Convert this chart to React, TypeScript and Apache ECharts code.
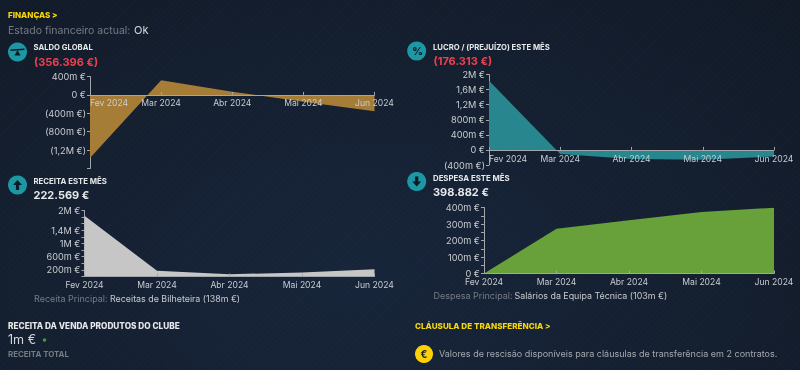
import React, { useEffect, useRef } from "react";
import * as echarts from "echarts";

const months = ["Fev 2024", "Mar 2024", "Abr 2024", "Mai 2024", "Jun 2024"];
// values in thousands of euros ("m €")
const saldo = [-1370, 320, 70, -150, -356.396];
const lucro = [1836, -106, -240, -260, -176.313];
const receita = [1843, 172, 70, 120, 222.569];
const despesa = [0, 271, 323, 373, 398.882];

const saldoLabels = [400, 0, -400, -800, -1200];
const lucroLabels = [2000, 1600, 1200, 800, 400, 0, -400];
const receitaLabels = [2000, 1400, 1000, 600, 200];
const despesaLabels = [400, 300, 200, 100, 0];

const FONT = "Inter";
const fmt = (v: number) => {
  const a = Math.abs(v);
  const s = a === 0 ? "0 €" : a >= 1000 ? `${String(a / 1000).replace(".", ",")}M €` : `${a}m €`;
  return v < 0 ? `(${s})` : s;
};

const AXIS = "#a2a6ab";

type Panel = {
  grid: { left: number; top: number; width: number; height: number };
  data: number[]; labels: number[]; color: string; min: number; max: number; interval: number;
  alignLeft?: boolean; margin: number;
};

const panels: Panel[] = [
  { grid: { left: 90, top: 76.5, width: 284.5, height: 92 }, data: saldo, labels: saldoLabels, color: "#a67d36", min: -1600, max: 400, interval: 400, alignLeft: true, margin: -70.5 },
  { grid: { left: 489, top: 74.5, width: 285, height: 90.5 }, data: lucro, labels: lucroLabels, color: "#27868e", min: -400, max: 2000, interval: 400, alignLeft: true, margin: -11 },
  { grid: { left: 84.5, top: 210.5, width: 290, height: 66 }, data: receita, labels: receitaLabels, color: "#c6c6c6", min: 0, max: 2000, interval: 200, margin: 4 },
  { grid: { left: 484, top: 207.5, width: 290, height: 66 }, data: despesa, labels: despesaLabels, color: "#68a039", min: 0, max: 400, interval: 50, margin: 4 },
];

const t = (x: number, y: number, text: string, fill: string, size: number, weight: number | string = 400) => ({
  type: "text", x, y, silent: true,
  style: { text, fill, fontSize: size, fontWeight: weight, fontFamily: FONT, verticalAlign: "middle" },
});
const circle = (cx: number, cy: number, r: number, fill: string) => ({ type: "circle", shape: { cx, cy, r }, style: { fill }, silent: true });
const poly = (points: number[][], fill: string) => ({ type: "polygon", shape: { points }, style: { fill }, silent: true });

const TEAL = "#1d97a4";
const DARK = "#0e1a26";
const YELLOW = "#f7d708";
const WHITE = "#e6e8ea";
const GRAY = "#757c85";
const RED = "#ee4150";

const upArrow = (cx: number, cy: number) => [[cx, cy - 5], [cx + 4.5, cy], [cx + 1.6, cy], [cx + 1.6, cy + 5], [cx - 1.6, cy + 5], [cx - 1.6, cy], [cx - 4.5, cy]];
const downArrow = (cx: number, cy: number) => [[cx, cy + 5], [cx + 4.5, cy], [cx + 1.6, cy], [cx + 1.6, cy - 5], [cx - 1.6, cy - 5], [cx - 1.6, cy], [cx - 4.5, cy]];

const graphics = [
  t(8, 14.5, "FINANÇAS >", YELLOW, 8, 800),
  t(8, 30, "Estado financeiro actual:", GRAY, 10.5),
  t(134, 30, "Ok", "#d5d7da", 11),

  circle(17.5, 52, 9.5, TEAL),
  poly([[10.5, 49.5], [24.5, 48.5], [24.5, 50], [10.5, 51]], DARK),
  poly([[17.5, 50], [20.5, 55.5], [14.5, 55.5]], DARK),
  t(33.5, 47, "SALDO GLOBAL", WHITE, 7.7, 700),
  t(34, 62, "(356.396 €)", RED, 11, 700),

  circle(416.7, 51, 9.5, TEAL),
  t(412.3, 51, "%", DARK, 10.5, 800),
  t(433, 47, "LUCRO / (PREJUÍZO) ESTE MÊS", WHITE, 7.7, 700),
  t(433.5, 60.5, "(176.313 €)", RED, 11, 700),

  circle(17.5, 185, 9.5, TEAL),
  poly(upArrow(17.5, 185), DARK),
  t(33.5, 180.5, "RECEITA ESTE MÊS", WHITE, 7.8, 700),
  t(33.5, 195, "222.569 €", WHITE, 11, 700),
  t(34, 298.5, "Receita Principal:", GRAY, 9),
  t(110, 298.5, "Receitas de Bilheteira (138m €)", "#c8cbce", 8.9),

  circle(416.7, 181.5, 9.5, TEAL),
  poly(downArrow(416.7, 181.5), DARK),
  t(433, 177.7, "DESPESA ESTE MÊS", WHITE, 7.8, 700),
  t(433, 192, "398.882 €", WHITE, 11, 700),
  t(433.5, 295.5, "Despesa Principal:", GRAY, 9),
  t(514.5, 295.5, "Salários da Equipa Técnica (103m €)", "#c8cbce", 8.9),

  t(8, 325.5, "RECEITA DA VENDA PRODUTOS DO CLUBE", WHITE, 8.25, 800),
  t(8, 339.5, "1m €", "#d5d7da", 12.6),
  circle(44.5, 340, 1.8, "#3f9a3a"),
  t(8, 353.5, "RECEITA TOTAL", GRAY, 7.9, 700),

  t(415, 326, "CLÁUSULA DE TRANSFERÊNCIA >", YELLOW, 8.1, 800),
  circle(424, 354, 9, "#fbd208"),
  t(420.4, 354, "€", "#1a1a10", 10, 700),
  t(439, 353.5, "Valores de rescisão disponíveis para cláusulas de transferência em 2 contratos.", "#a4a9af", 9),
];

export default function App() {
  const ref = useRef<HTMLDivElement>(null);
  useEffect(() => {
    const chart = echarts.init(ref.current!, undefined, { renderer: "svg" });
    chart.setOption({
      animation: false,
      backgroundColor: "transparent",
      grid: panels.map((p) => ({ ...p.grid, containLabel: false })),
      xAxis: panels.map((p, i) => ({
        type: "category", gridIndex: i, data: months, boundaryGap: false,
        axisLine: { show: true, onZero: true, lineStyle: { color: AXIS, width: 1 } },
        axisTick: { show: true, alignWithLabel: true, inside: true, length: 3, lineStyle: { color: AXIS } },
        axisLabel: {
          show: true, interval: 0, color: "#c9ccd0", fontSize: 8.6, fontFamily: FONT, margin: p.margin,
          alignMinLabel: p.alignLeft ? "left" : "center",
          showMinLabel: true, showMaxLabel: true, hideOverlap: false,
        },
        splitLine: { show: false },
        z: 5,
      })),
      yAxis: panels.map((p, i) => ({
        type: "value", gridIndex: i, min: p.min, max: p.max, interval: p.interval,
        axisLine: { show: true, onZero: false, lineStyle: { color: AXIS, width: 1 } },
        axisTick: { show: true, length: 3, lineStyle: { color: AXIS } },
        axisLabel: {
          color: "#c9ccd0", fontSize: 9.2, fontFamily: FONT, margin: 4,
          formatter: (v: number) => (p.labels.includes(v) ? fmt(v) : ""),
        },
        splitLine: { show: false },
      })),
      series: panels.map((p, i) => ({
        type: "line", xAxisIndex: i, yAxisIndex: i, data: p.data,
        symbol: "none", smooth: false,
        lineStyle: { width: 0 },
        areaStyle: { color: p.color, opacity: 1, origin: "auto" },
        z: 2,
      })),
      graphic: { elements: graphics },
    });
    return () => chart.dispose();
  }, []);
  return (
    <div
      style={{
        position: "fixed", left: 0, top: 0, width: 800, height: 370, overflow: "hidden",
        background:
          "repeating-linear-gradient(135deg, rgba(255,255,255,0.012) 0 1px, transparent 1px 4px), radial-gradient(ellipse at 45% 75%, #17253a 0%, #141f30 55%, #111926 100%)",
      }}
    >
      <div ref={ref} style={{ width: 800, height: 370 }} />
    </div>
  );
}
